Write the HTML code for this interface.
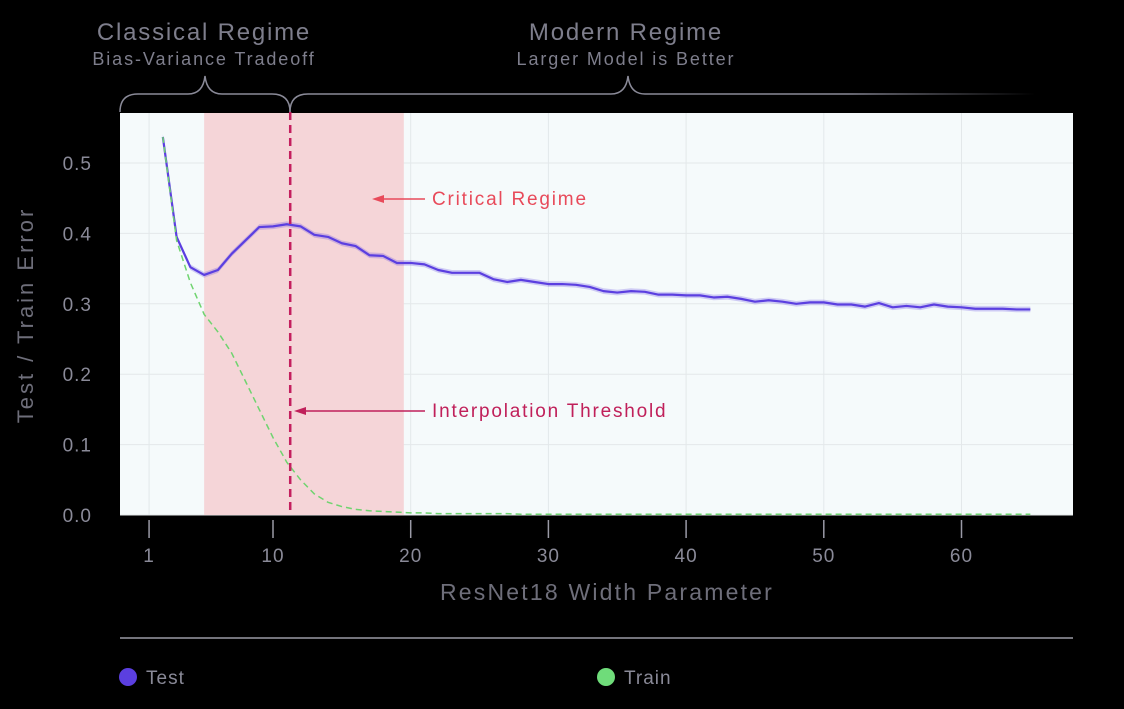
<!DOCTYPE html>
<html><head><meta charset="utf-8"><style>
body{margin:0;background:#000;width:1124px;height:704px;overflow:hidden;font-family:"Liberation Sans",sans-serif}
svg text{font-family:"Liberation Sans",sans-serif}
</style></head><body>
<svg id="chart" width="1124" height="704" xmlns="http://www.w3.org/2000/svg">
<defs><linearGradient id="fade" x1="0" x2="1"><stop offset="0.75" stop-color="#8a8a98"/><stop offset="1" stop-color="#8a8a98" stop-opacity="0"/></linearGradient></defs>
<rect x="120" y="113" width="953" height="402" fill="#f5fafb"/>
<g id="grid"></g>
<rect id="band" y="113" height="402" fill="#f5d5d8"/>
<g id="series"></g>
<g id="axes"></g>
<path d="M120,112 Q120,94 138,94 L188,94 Q203,94 205,76 Q207,94 222,94 L272,94 Q290,94 290,112" fill="none" stroke="#8a8a98" stroke-width="1.5"/>
<path d="M290,112 Q290,94 308,94 L611,94 Q626,94 628,76 Q630,94 645,94 L1035,94" fill="none" stroke="url(#fade)" stroke-width="1.5"/>
<text x="204" y="40" text-anchor="middle" font-size="24" fill="#7e7e8c" letter-spacing="1.8">Classical Regime</text>
<text x="204" y="65" text-anchor="middle" font-size="18" fill="#7e7e8c" letter-spacing="1.9">Bias-Variance Tradeoff</text>
<text x="626" y="40" text-anchor="middle" font-size="24" fill="#7e7e8c" letter-spacing="1.8">Modern Regime</text>
<text x="626" y="65" text-anchor="middle" font-size="18" fill="#7e7e8c" letter-spacing="1.9">Larger Model is Better</text>
<text transform="translate(33,315) rotate(-90)" text-anchor="middle" font-size="22" fill="#6e6e7a" letter-spacing="3">Test / Train Error</text>
<text x="607" y="600" text-anchor="middle" font-size="23" fill="#6e6e7a" letter-spacing="2.2">ResNet18 Width Parameter</text>
<line x1="120" y1="638" x2="1073" y2="638" stroke="#9a9aa6" stroke-width="1.5"/>
<circle cx="128" cy="677" r="9" fill="#5b3fe0"/>
<text x="146" y="684" font-size="19" fill="#8a8a98" letter-spacing="1">Test</text>
<circle cx="606" cy="677" r="9" fill="#6fdc7a"/>
<text x="624" y="684" font-size="19" fill="#8a8a98" letter-spacing="1">Train</text>
</svg>
<script>
const xTicks=[1,10,20,30,40,50,60];
const yTicks=[0,0.1,0.2,0.3,0.4,0.5];
const widths=[2,3,4,5,6,7,8,9,10,11,12,13,14,15,16,17,18,19,20,21,22,23,24,25,26,27,28,29,30,31,32,33,34,35,36,37,38,39,40,41,42,43,44,45,46,47,48,49,50,51,52,53,54,55,56,57,58,59,60,61,62,63,64,65];
const testErr=[0.537,0.395,0.352,0.341,0.348,0.371,0.39,0.409,0.41,0.413,0.41,0.398,0.395,0.386,0.382,0.369,0.368,0.358,0.358,0.356,0.348,0.344,0.344,0.344,0.335,0.331,0.334,0.331,0.328,0.328,0.327,0.324,0.318,0.316,0.318,0.317,0.313,0.313,0.312,0.312,0.309,0.31,0.307,0.303,0.305,0.303,0.3,0.302,0.302,0.299,0.299,0.296,0.301,0.295,0.297,0.295,0.299,0.296,0.295,0.293,0.293,0.293,0.292,0.292];
const trainErr=[0.537,0.39,0.33,0.285,0.26,0.23,0.19,0.15,0.11,0.075,0.05,0.03,0.018,0.012,0.008,0.006,0.005,0.004,0.003,0.003,0.002,0.002,0.002,0.002,0.002,0.002,0.001,0.001,0.001,0.001,0.001,0.001,0.001,0.001,0.001,0.001,0.001,0.001,0.001,0.001,0.001,0.001,0.001,0.001,0.001,0.001,0.001,0.001,0.001,0.001,0.001,0.001,0.001,0.001,0.001,0.001,0.001,0.001,0.001,0.001,0.001,0.001,0.001,0.001];
const criticalRange=[5,19.5];
const threshold=11.25;
const X=v=>135.3+v*13.77, Y=v=>515-v*704;
const NS="http://www.w3.org/2000/svg";
function mk(t,a,p){const e=document.createElementNS(NS,t);for(const k in a)e.setAttribute(k,a[k]);p.appendChild(e);return e;}
const grid=document.getElementById('grid'),axes=document.getElementById('axes'),ser=document.getElementById('series');
xTicks.forEach(t=>{const l=mk('line',{x1:X(t),x2:X(t),y1:113,y2:515,stroke:'#e3e8ea','stroke-width':1},grid);

const tk=mk('line',{x1:X(t),x2:X(t),y1:520,y2:538,stroke:'#9a9aa6','stroke-width':1.5},axes);

const tx=mk('text',{x:X(t),y:562,'text-anchor':'middle','font-size':19,fill:'#8a8a98','letter-spacing':1},axes);tx.textContent=t;
});
yTicks.forEach(t=>{const l=mk('line',{x1:120,x2:1073,y1:Y(t),y2:Y(t),stroke:'#e3e8ea','stroke-width':1},grid);

const tx=mk('text',{x:92,y:Y(t)+7,'text-anchor':'end','font-size':19,fill:'#8a8a98','letter-spacing':1},axes);tx.textContent=t.toFixed(1);
});
const band=document.getElementById('band');band.setAttribute('x',X(criticalRange[0]));band.setAttribute('width',X(criticalRange[1])-X(criticalRange[0]));
let up=widths.map((w,i)=>X(w)+','+Y(testErr[i]+0.004)),dn=widths.map((w,i)=>X(w)+','+Y(testErr[i]-0.004)).reverse();
const tb=mk('polygon',{points:up.concat(dn).join(' '),fill:'#5b3fe0','fill-opacity':0.25},ser);

const te=mk('polyline',{points:widths.map((w,i)=>X(w)+','+Y(testErr[i])).join(' '),fill:'none',stroke:'#5b3fe0','stroke-width':2.2,'stroke-linejoin':'round'},ser);

const tr=mk('polyline',{points:widths.map((w,i)=>X(w)+','+Y(trainErr[i])).join(' '),fill:'none',stroke:'#6fd46f','stroke-width':1.5,'stroke-dasharray':'6,4'},ser);

const th=mk('line',{x1:X(threshold),x2:X(threshold),y1:112,y2:515,stroke:'#c41f5e','stroke-width':2.5,'stroke-dasharray':'8,5'},ser);

function ann(y,x2,col,txt,name){
const l=mk('line',{x1:425,x2:x2+8,y1:y,y2:y,stroke:col,'stroke-width':1.5},ser);

const h=mk('polygon',{points:`${x2},${y} ${x2+12},${y-4} ${x2+12},${y+4}`,fill:col},ser);

const t=mk('text',{x:432,y:y+6,'font-size':19,fill:col,'letter-spacing':1.8},ser);t.textContent=txt;
}
ann(199,372,'#e84a5a','Critical Regime','critical-regime');
ann(411,294,'#c0205a','Interpolation Threshold','interpolation-threshold');
</script>
</body></html>
